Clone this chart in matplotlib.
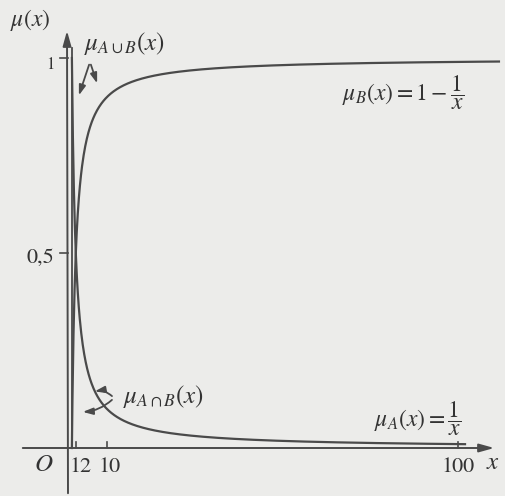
import numpy as np
import matplotlib.pyplot as plt

plt.rcParams['mathtext.fontset'] = 'stix'
plt.rcParams['font.family'] = ['STIXGeneral', 'DejaVu Serif']

# membership functions, defined for x >= 1
x_a = np.linspace(1, 101.8, 800)
mu_a = 1 / x_a                  # mu_A(x) = 1/x
x_b = np.linspace(1, 110.5, 800)
mu_b = 1 - 1 / x_b              # mu_B(x) = 1 - 1/x

x_ticks = [1, 2, 10, 100]
x_tick_labels = ['1', '2', '10', '100']
y_ticks = [0.5, 1]
y_tick_labels = ['0,5', '1']

paper = '#ececea'
ink = '#4a4a4a'
txt = '#333333'

# pixel layout of the sheet: origin at (68, 448), 3.9 px per x unit, 390 px per y unit
W, H = 505, 496
X0, Y0, SX, SY = 68, 448, 3.9, 390

def px(u, v):
    return (u - X0) / SX, (Y0 - v) / SY

fig = plt.figure(figsize=(W / 100, H / 100), dpi=100, facecolor=paper)
ax = fig.add_axes([0, 0, 1, 1])
ax.set_facecolor(paper)
ax.set_xlim(px(0, 0)[0], px(W, 0)[0])
ax.set_ylim(px(0, H)[1], px(0, 0)[1])
ax.axis('off')

# axes with arrows
head = dict(arrowstyle='-|>,head_length=0.9,head_width=0.25', color=ink, lw=1.4)
ax.annotate('', xy=px(497, Y0), xytext=px(20, Y0), arrowprops=head)
ax.annotate('', xy=px(X0 - 1, 28), xytext=px(X0, 496), arrowprops=head)

# x = 1 boundary
ax.plot([1, 1], [0, 1.026], color=ink, lw=1.3)

# curves
ax.plot(x_a, mu_a, color=ink, lw=1.6)
ax.plot(x_b, mu_b, color=ink, lw=1.6)

# ticks
for t in x_ticks:
    ax.plot([t, t], [0, 0.015], color=ink, lw=1.2)
for t in y_ticks:
    ax.plot([px(60, 0)[0], 0], [t, t], color=ink, lw=1.2)

fs = 17
ax.text(*px(75, 467), x_tick_labels[0], fontsize=fs - 1, color=txt, ha='center', va='center')
ax.text(*px(85, 467), x_tick_labels[1], fontsize=fs - 1, color=txt, ha='center', va='center')
ax.text(*px(110, 467), x_tick_labels[2], fontsize=fs - 1, color=txt, ha='center', va='center')
ax.text(100, px(0, 467)[1], x_tick_labels[3], fontsize=fs - 1, color=txt, ha='center', va='center')
ax.text(*px(40, 258), y_tick_labels[0], fontsize=fs - 1, color=txt, ha='center', va='center')
ax.text(*px(50, 65), y_tick_labels[1], fontsize=12, color=txt, ha='center', va='center')
ax.text(*px(44, 465), '$O$', fontsize=fs + 1, color=txt, ha='center', va='center')
ax.text(*px(493, 463), '$x$', fontsize=fs + 1, color=txt, ha='center', va='center')
ax.text(*px(30, 20), r'$\mu(x)$', fontsize=fs, color=txt, ha='center', va='center')

# labels of the curves
ax.text(*px(403, 93), r'$\mu_B(x) = 1 - \dfrac{1}{x}$', fontsize=fs, color=txt,
        ha='center', va='center')
ax.text(*px(418, 419), r'$\mu_A(x) = \dfrac{1}{x}$', fontsize=fs, color=txt,
        ha='center', va='center')

# union / intersection labels with pointers
ax.text(*px(124, 44), r'$\mu_{A\cup B}(x)$', fontsize=fs + 1, color=txt, ha='center', va='center')
arrow = dict(arrowstyle='-|>,head_length=0.6,head_width=0.2', color=ink, lw=1.3)
ax.annotate('', xy=px(78, 98), xytext=px(90, 62), arrowprops=arrow)
ax.annotate('', xy=px(98, 86), xytext=px(90, 62), arrowprops=arrow)

ax.text(*px(163, 396), r'$\mu_{A\cap B}(x)$', fontsize=fs + 1, color=txt, ha='center', va='center')
ax.annotate('', xy=px(92, 392), xytext=px(114, 398),
            arrowprops=dict(arrow, connectionstyle='arc3,rad=0.3'))
ax.annotate('', xy=px(80, 412), xytext=px(114, 398),
            arrowprops=dict(arrow, connectionstyle='arc3,rad=-0.2'))

fig.savefig('out.png', dpi=100, facecolor=paper)
